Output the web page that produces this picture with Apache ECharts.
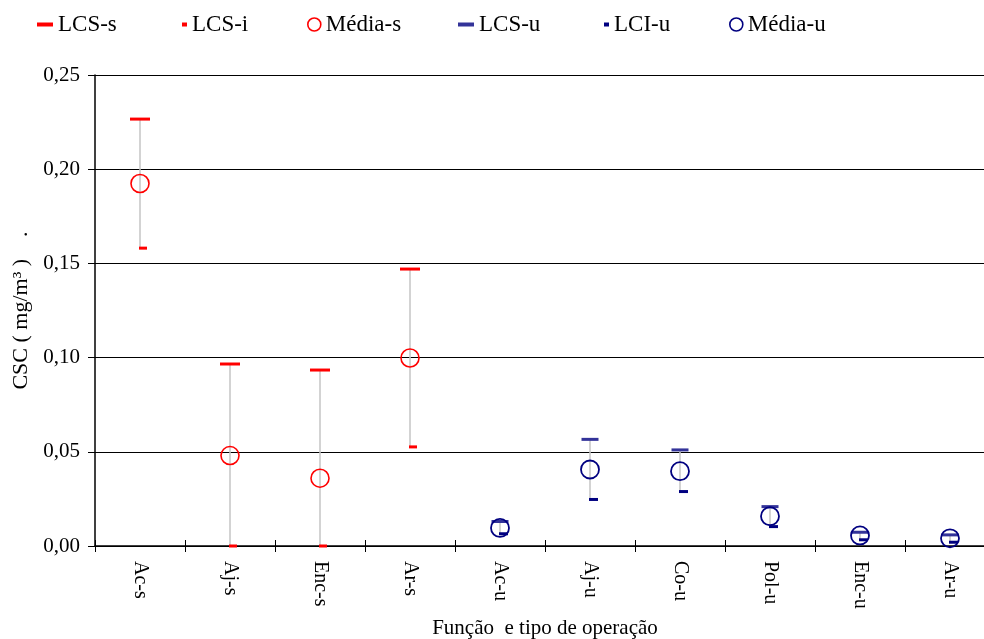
<!DOCTYPE html>
<html>
<head>
<meta charset="utf-8">
<script src="https://cdn.jsdelivr.net/npm/echarts@6/dist/echarts.min.js"></script>
<style>html,body{margin:0;padding:0;background:#fff;overflow:hidden}#c{width:984px;height:639px}</style>
</head>
<body>
<div id="c"></div>
<script>
const categories = ['Ac-s','Aj-s','Enc-s','Ar-s','Ac-u','Aj-u','Co-u','Pol-u','Enc-u','Ar-u'];
const lcsS   = [0.2266, 0.0966, 0.0934, 0.1470, null, null, null, null, null, null];
const lcsI   = [0.1581, 0.0000, 0.0000, 0.0526, null, null, null, null, null, null];
const mediaS = [0.1924, 0.0480, 0.0360, 0.0998, null, null, null, null, null, null];
const lcsU   = [null, null, null, null, 0.0130, 0.0566, 0.0510, 0.0209, 0.0073, 0.0059];
const lciU   = [null, null, null, null, 0.0065, 0.0247, 0.0289, 0.0103, 0.0033, 0.0020];
const mediaU = [null, null, null, null, 0.0096, 0.0406, 0.0397, 0.0158, 0.0056, 0.0041];
const yTicks = [0, 0.05, 0.10, 0.15, 0.20, 0.25];

const FONT = 'Liberation Serif';
function pairs(arr){ const out=[]; arr.forEach((v,i)=>{ if(v!==null) out.push([categories[i], v]); }); return out; }
const rangeData = [];
categories.forEach((c,i)=>{
  const hi = lcsS[i]!==null ? lcsS[i] : lcsU[i];
  const lo = lcsI[i]!==null ? lcsI[i] : lciU[i];
  rangeData.push([i, lo, hi]);
});

const legendDefs = [
  {name:'LCS-s', left:32, icon:'rect', w:16, h:4, color:'#ff0000'},
  {name:'LCS-i', left:177, icon:'rect', w:5, h:4, color:'#ff0000'},
  {name:'Média-s', left:302, icon:'circle', w:13, h:13, color:'#ff0000', empty:true},
  {name:'LCS-u', left:453, icon:'rect', w:16, h:4, color:'#333399'},
  {name:'LCI-u', left:599, icon:'rect', w:5, h:4, color:'#000080'},
  {name:'Média-u', left:724, icon:'circle', w:13, h:13, color:'#000080', empty:true}
];
const legends = legendDefs.map(d=>({
  left: d.left, top: 8, itemWidth: d.w, itemHeight: d.h, itemGap: 0,
  textStyle:{fontFamily:FONT, fontSize:23, color:'#000'},
  selectedMode:false,
  data:[{name:d.name, icon:d.icon, itemStyle: d.empty ? {color:'rgba(0,0,0,0)', borderColor:d.color, borderWidth:1.6, opacity:1} : {color:d.color, borderWidth:0, opacity:1}}]
}));

const chart = echarts.init(document.getElementById('c'));
chart.setOption({
  animation:false,
  backgroundColor:'#fff',
  legend: legends,
  grid:{left:95, right:-11, top:75, bottom:93, outerBoundsMode:'none', containLabel:false},
  xAxis:[{
    type:'category', data:categories, boundaryGap:true,
    axisLine:{lineStyle:{color:'#000', width:1.5}},
    axisTick:{show:true, length:6, lineStyle:{color:'#000'}},
    axisLabel:{rotate:-90, margin:15, fontFamily:FONT, fontSize:20, color:'#000'},
    name:'Função  e tipo de operação', nameLocation:'middle', nameGap:72,
    nameTextStyle:{fontFamily:FONT, fontSize:21, color:'#000'}
  },{
    type:'category', data:categories, boundaryGap:true, position:'bottom',
    axisLine:{show:false},
    axisTick:{show:true, inside:true, length:6, lineStyle:{color:'#000'}},
    axisLabel:{show:false}
  }],
  yAxis:{
    type:'value', min:0, max:0.25, interval:0.05,
    axisLine:{show:true, lineStyle:{color:'#000', width:1.5}},
    axisTick:{show:true, length:7, lineStyle:{color:'#000'}},
    splitLine:{lineStyle:{color:'#000', width:1}},
    axisLabel:{margin:15, fontFamily:FONT, fontSize:21, color:'#000',
      formatter:v=>v.toFixed(2).replace('.',',')},
    name:'CSC ( mg/m³ )    .', nameLocation:'middle', nameGap:50,
    nameTextStyle:{fontFamily:FONT, fontSize:22, color:'#000'}
  },
  series:[
    {type:'custom', name:'range', data:rangeData, encode:{x:0, y:[1,2]}, z:1,
      renderItem:(params, api)=>{
        const p1 = api.coord([api.value(0), api.value(1)]);
        const p2 = api.coord([api.value(0), api.value(2)]);
        return {type:'line', shape:{x1:p1[0], y1:p1[1], x2:p2[0], y2:p2[1]}, style:{stroke:'#c4c4c4', lineWidth:1.5}};
      }},
    {type:'scatter', name:'LCS-s', data:pairs(lcsS), symbol:'rect', symbolSize:[20,3], itemStyle:{color:'#ff0000', opacity:1}, z:3},
    {type:'scatter', name:'LCS-i', data:pairs(lcsI), symbol:'rect', symbolSize:[8,3], symbolOffset:[3,0], itemStyle:{color:'#ff0000', opacity:1}, z:3},
    {type:'scatter', name:'Média-s', data:pairs(mediaS), symbol:'circle', symbolSize:18, itemStyle:{color:'rgba(0,0,0,0)', borderColor:'#ff0000', borderWidth:1.6, opacity:1}, z:4},
    {type:'scatter', name:'LCS-u', data:pairs(lcsU), symbol:'rect', symbolSize:[17,3], itemStyle:{color:'#333399', opacity:1}, z:3},
    {type:'scatter', name:'LCI-u', data:pairs(lciU), symbol:'rect', symbolSize:[9,3], symbolOffset:[3.5,0], itemStyle:{color:'#000080', opacity:1}, z:3},
    {type:'scatter', name:'Média-u', data:pairs(mediaU), symbol:'circle', symbolSize:18, itemStyle:{color:'rgba(0,0,0,0)', borderColor:'#000080', borderWidth:1.8, opacity:1}, z:4}
  ]
});
</script>
</body>
</html>
